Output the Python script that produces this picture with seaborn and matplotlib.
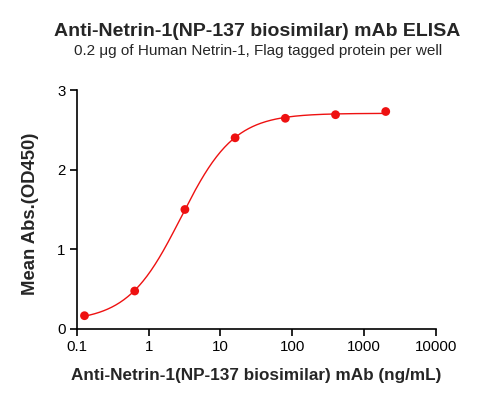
import numpy as np
import pandas as pd
import seaborn as sns
import matplotlib.pyplot as plt

# ELISA readings, 5-fold dilution series
conc = [0.128, 0.64, 3.2, 16, 80, 400, 2000]
od450 = [0.167, 0.477, 1.50, 2.40, 2.645, 2.69, 2.73]

title = "Anti-Netrin-1(NP-137 biosimilar) mAb ELISA"
subtitle = "0.2 \u03bcg of Human Netrin-1, Flag tagged protein per well"
xlab = "Anti-Netrin-1(NP-137 biosimilar) mAb (ng/mL)"
ylab = "Mean Abs.(OD450)"
xticks = [0.1, 1, 10, 100, 1000, 10000]
xticklabels = ["0.1", "1", "10", "100", "1000", "10000"]
yticks = [0, 1, 2, 3]

sns.set_theme(style="ticks")
plt.rcParams["font.family"] = ["Liberation Sans", "DejaVu Sans"]

# 4PL fit: grid over ec50/hill, bottom/top by linear least squares
x = np.array(conc)
y = np.array(od450)
best = None
for lec in np.linspace(-1, 2, 301):
    for h in np.linspace(0.5, 2.5, 201):
        s = 1.0 / (1.0 + (10**lec / x) ** h)
        A = np.column_stack([1 - s, s])
        coef, res, _, _ = np.linalg.lstsq(A, y, rcond=None)
        err = np.sum((A @ coef - y) ** 2)
        if best is None or err < best[0]:
            best = (err, lec, h, coef)
_, lec, h, (bot, top) = best
xs = np.logspace(np.log10(x.min()), np.log10(x.max()), 300)
fit = pd.DataFrame({"conc": xs, "od": bot + (top - bot) / (1 + (10**lec / xs) ** h)})
pts = pd.DataFrame({"conc": conc, "od": od450})

fig = plt.figure(figsize=(4.86, 4.0), dpi=100)
ax = fig.add_axes([0.158, 0.1775, 0.739, 0.5975])
sns.lineplot(data=fit, x="conc", y="od", color="#ee1111", linewidth=1.0, ax=ax)
sns.scatterplot(data=pts, x="conc", y="od", color="#ee1111", s=40, edgecolor="none", ax=ax, zorder=3)

ax.set_xscale("log")
ax.set_xlim(0.1, 10000)
ax.set_ylim(0, 3)
ax.set_xticks(xticks)
ax.set_xticklabels(xticklabels)
ax.minorticks_off()
ax.set_yticks(yticks)
ax.tick_params(axis="both", labelsize=10.8, length=5, width=1.2, color="black", labelcolor="black", pad=3)
for sp in ["left", "bottom"]:
    ax.spines[sp].set_linewidth(1.2)
    ax.spines[sp].set_color("black")
sns.despine(ax=ax)
ax.set_xlabel(xlab, fontsize=12.3, fontweight="bold", labelpad=10)
ax.set_ylabel(ylab, fontsize=13.3, fontweight="bold", labelpad=13)
ax.yaxis.label.set_y(0.482)

fig.text(0.53, 0.9225, title, ha="center", va="center", fontsize=14, fontweight="bold")
fig.text(0.53, 0.873, subtitle, ha="center", va="center", fontsize=11)

fig.savefig("out.png", dpi=100)
